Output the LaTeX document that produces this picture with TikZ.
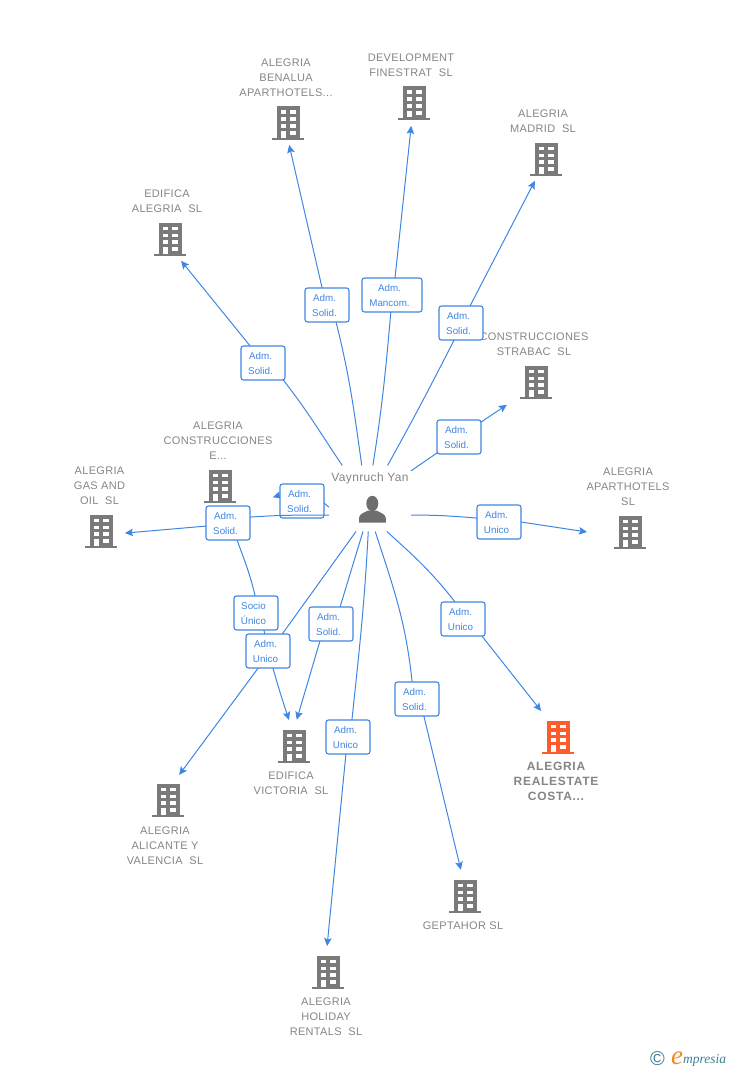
\documentclass[tikz,border=0pt]{standalone}
\usepackage{fontspec}
\usepackage{xcolor}
\usetikzlibrary{arrows.meta,backgrounds}
\setmainfont{Liberation Sans}
\newfontfamily\namefont[LetterSpace=3]{Liberation Sans}
\newfontfamily\logofont{Liberation Serif}
\definecolor{link1}{HTML}{3F86E3}
\definecolor{gray1}{HTML}{7A7A7A}
\definecolor{gray2}{HTML}{858585}
\definecolor{orange1}{HTML}{FF5B2B}
\definecolor{teal1}{HTML}{3E7F96}
\definecolor{orange2}{HTML}{F08A24}

\tikzset{
  link/.style={draw=link1,line width=1pt},
  linkto/.style={link,-{Stealth[length=8pt,width=7.5pt,inset=1.5pt]}},
  rolebox/.style={draw=link1,line width=1.1pt,fill=white,rounded corners=2.5pt,text=link1,
    minimum width=44pt,minimum height=34pt,inner sep=0pt,outer sep=0pt,align=center,
    font=\fontsize{9.8}{15}\selectfont},
  firmname/.style={text=gray2,align=center,inner sep=0pt,yshift=-1pt,font=\namefont\fontsize{11}{15}\selectfont},
  firmicon/.style={circle,inner sep=0pt,outer sep=0pt,minimum size=#1},
}

% the two lines of a role box sit a little left of its middle
\newcommand{\role}[2]{#1\hspace*{5pt}\\#2\hspace*{5pt}}

% name, x, y, size of the ring the arrows stop at, colour
\newcommand{\firm}[5]{
\node[firmicon=#4] (#1) at (#2,#3) {};
\begin{scope}[shift={(#2,#3)}]
\fill[#5] (-11.5,16.5) rectangle (11.5,-15);
\fill[#5] (-16,-15) rectangle (16,-17);
\foreach \wy in {8.7,1.7,-5,-11.7}{
\fill[white] (-7.5,\wy) rectangle (-2.5,\wy+3.8);
\fill[white] (2.2,\wy) rectangle (7.5,\wy+3.8);
}
\fill[white] (-7.5,-14.5) rectangle (-2.5,-11);
\end{scope}
}

\begin{document}
\begin{tikzpicture}[x=1pt,y=1pt]
\useasboundingbox (0,0) rectangle (728,-1070);

\firm{benalua}{288}{-123}{44}{gray1}
\firm{finestrat}{414}{-103}{46}{gray1}
\firm{madrid}{546}{-159}{49}{gray1}
\firm{edifica}{170}{-239}{49}{gray1}
\firm{strabac}{536}{-382}{74}{gray1}
\firm{construcc}{220}{-486}{108}{gray1}
\firm{gasoil}{101}{-531}{48}{gray1}
\firm{aparthot}{630}{-532}{86}{gray1}
\firm{realestate}{558}{-737}{62}{orange1}
\firm{victoria}{294}{-746}{53}{gray1}
\firm{alicante}{168}{-800}{55}{gray1}
\firm{geptahor}{465}{-896}{53}{gray1}
\firm{holiday}{328}{-972}{52}{gray1}

\node[firmname] (nbenalua) at (286,-77) {ALEGRIA\\BENALUA\\APARTHOTELS...};
\node[firmname] (nfinestrat) at (411,-64.5) {DEVELOPMENT\\FINESTRAT\ \ SL};
\node[firmname] (nmadrid) at (543,-120.5) {ALEGRIA\\MADRID\ \ SL};
\node[firmname] (nedifica) at (167,-200.5) {EDIFICA\\ALEGRIA\ \ SL};
\node[firmname] (nstrabac) at (534,-343.5) {CONSTRUCCIONES\\STRABAC\ \ SL};
\node[firmname] (nconstrucc) at (218,-440) {ALEGRIA\\CONSTRUCCIONES\\E...};
\node[firmname] (ngasoil) at (99.5,-485) {ALEGRIA\\GAS AND\\OIL\ \ SL};
\node[firmname] (naparthot) at (628,-486) {ALEGRIA\\APARTHOTELS\\SL};
\node[firmname,yshift=1pt,font=\namefont\addfontfeature{LetterSpace=6}\fontsize{12}{15}\selectfont\bfseries] (nrealestate) at (556,-781) {ALEGRIA\\REALESTATE\\COSTA...};
\node[firmname] (nvictoria) at (291,-782.5) {EDIFICA\\VICTORIA\ \ SL};
\node[firmname] (nalicante) at (165,-845) {ALEGRIA\\ALICANTE Y\\VALENCIA\ \ SL};
\node[firmname] (ngeptahor) at (463,-925) {GEPTAHOR SL};
\node[firmname] (nholiday) at (326,-1016) {ALEGRIA\\HOLIDAY\\RENTALS\ \ SL};

% the person
\node[minimum width=82pt,minimum height=66pt,inner sep=0pt,outer sep=0pt] (person) at (370,-498.5) {};
\node[firmname,font=\namefont\fontsize{12}{15}\selectfont] (nperson) at (370,-477) {Vaynruch Yan};
\fill[gray1!90!black] (372.3,-503.5) ellipse (6 and 7.7);
\fill[gray1!90!black] (359,-522.5) -- (359,-518) .. controls (359.5,-513.5) and (364,-513) .. (368,-510.5)
  -- (376.5,-510.5) .. controls (380.5,-513) and (385,-513.5) .. (385.8,-518) -- (385.8,-522.5) -- cycle;

\node[rolebox] (rbenalua) at (327,-305) {\role{Adm.}{Solid.}};
\node[rolebox,minimum width=60pt] (rfinestrat) at (392,-295) {\role{Adm.}{Mancom.}};
\node[rolebox] (rmadrid) at (461,-323) {\role{Adm.}{Solid.}};
\node[rolebox] (redifica) at (263,-363) {\role{Adm.}{Solid.}};
\node[rolebox] (rstrabac) at (459,-437) {\role{Adm.}{Solid.}};
\node[rolebox] (rconstrucc) at (302,-501) {\role{Adm.}{Solid.}};
\node[rolebox] (rgasoil) at (228,-523) {\role{Adm.}{Solid.}};
\node[rolebox] (raparthot) at (499,-522) {\role{Adm.}{Unico}};
\node[rolebox] (rsocio) at (256,-613) {\role{Socio}{Único}};
\node[rolebox] (ralicante) at (268,-651) {\role{Adm.}{Unico}};
\node[rolebox] (rvictoria) at (331,-624) {\role{Adm.}{Solid.}};
\node[rolebox] (rholiday) at (348,-737) {\role{Adm.}{Unico}};
\node[rolebox] (rgeptahor) at (417,-699) {\role{Adm.}{Solid.}};
\node[rolebox] (rrealestate) at (463,-619) {\role{Adm.}{Unico}};

\begin{scope}[on background layer]
\draw[link] (person.104) to[out=98,in=-76] (rbenalua.-62);
\draw[linkto] (rbenalua.106) -- (benalua.-87);
\draw[link] (person.85) to[out=81,in=-95] (rfinestrat.-94);
\draw[linkto] (rfinestrat.80) -- (finestrat.-97);
\draw[link] (person.62) to[out=61,in=-117] (rmadrid.-112);
\draw[linkto] (rmadrid.62) -- (madrid.-117);
\draw[link] (person.130) to[out=124,in=-52] (redifica.-40);
\draw[linkto] (redifica.127) -- (edifica.-63);
\draw[link] (person.34) -- (rstrabac.216);
\draw[linkto] (rstrabac.34) -- (strabac.218);
\draw[link] (person.192) -- (rconstrucc.-5);
\draw[linkto] (rconstrucc.165) -- (construcc.-12);
\draw[linkto] (rgasoil.188) -- (gasoil.-5);
\draw[link] (rgasoil.-62) to[out=-70,in=103] (rsocio.93);
\draw[linkto] (rsocio.-65) to[out=-78,in=108] (victoria.101);
\draw[link] (person.-113) -- (ralicante.50);
\draw[linkto] (ralicante.-120) -- (alicante.66);
\draw[link] (person.-102) -- (rvictoria.62);
\draw[linkto] (rvictoria.-123) -- (victoria.84);
\draw[link] (person.-93) to[out=-93,in=84] (rholiday.77);
\draw[linkto] (rholiday.-97) -- (holiday.92);
\draw[link] (person.-81) to[out=-72,in=96] (rgeptahor.106);
\draw[linkto] (rgeptahor.-68) -- (geptahor.99);
\draw[link] (person.-63) to[out=-42,in=128] (rrealestate.115);
\draw[linkto] (rrealestate.-42) -- (realestate.123);
\draw[link] (person.-22) to[out=0,in=175] (raparthot.170);
\draw[linkto] (raparthot.0) -- (aparthot.180);
\end{scope}

% this one runs across the box above it
\draw[link] (person.202) to[out=180,in=4] (rgasoil.15);

\node[text=teal1,inner sep=0pt,font=\fontsize{20}{20}\selectfont] (logoc) at (657.5,-1058.5) {©};
\node[text=orange2,inner sep=0pt,font=\logofont\itshape\fontsize{27}{27}\selectfont] (logoe) at (677,-1058.5) {e};
\node[text=teal1,inner sep=0pt,anchor=west,font=\logofont\itshape\fontsize{13.5}{14}\selectfont] (logot) at (683,-1060) {mpresia};

\end{tikzpicture}
\end{document}
